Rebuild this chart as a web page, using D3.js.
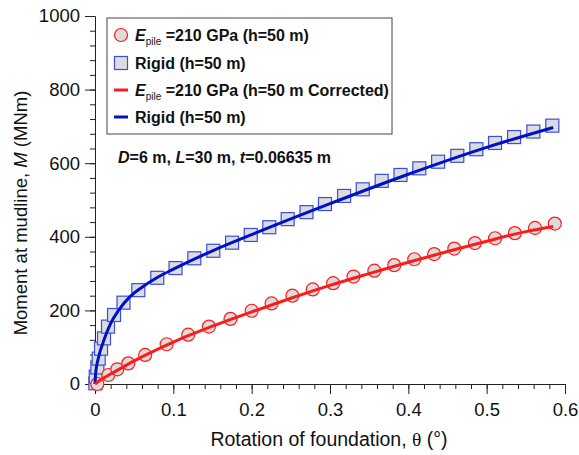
<!DOCTYPE html>
<html><head><meta charset="utf-8">
<script src="https://cdn.jsdelivr.net/npm/d3@7"></script>
<style>body{margin:0;background:#fff}svg{font-family:"Liberation Sans",Arial,sans-serif}text{white-space:pre}</style>
</head><body><svg id="c" width="579" height="455"></svg>
<script>
// Data
const redPtsTheta = [0.003,0.017,0.0285,0.0425,0.064,0.0915,0.119,0.1455,0.173,0.200,0.2255,0.252,0.278,0.304,0.330,0.3566,0.382,0.4076,0.433,0.4587,0.485,0.5107,0.536,0.5617,0.587];
const redPtsM     = [0,24.5,40,56,79,108,134,156,177,199,219,240,257,274,292,308,323,339,353,368,383,396,410,424,436];
const bluePtsTheta = [0.0005,0.001,0.003,0.0047,0.0077,0.0115,0.0166,0.0243,0.0364,0.0553,0.0795,0.1028,0.1268,0.151,0.175,0.1988,0.2225,0.246,0.270,0.2936,0.318,0.3418,0.366,0.390,0.414,0.438,0.4625,0.4868,0.5107,0.535,0.5596,0.5838];
const bluePtsM     = [2,20,45,69,96,124,156,187.5,221,255,288.6,315,341.6,362,384,405,426,448,467,489,511,529,552,568,586,604,620,638,655,671,686,702];
const redLineTheta = [0,0.005,0.01,0.02,0.05,0.1,0.15,0.2,0.25,0.3,0.35,0.4,0.45,0.5,0.55,0.585];
const redLineM     = [0,8,15,27,63,114,157,196,233,268,300,331,360,388,414,428];
const blueLineTheta = [0,0.0005,0.001,0.002,0.004,0.007,0.01,0.015,0.02,0.03,0.045,0.06,0.08,0.1,0.15,0.2,0.3,0.4,0.5,0.585];
const blueLineM     = [0,18,32,48,68,92,111,140,165,200,238,263,290,312,362,406,490,570,643,697];
const xTicks = [0,0.1,0.2,0.3,0.4,0.5,0.6];
const xTickLabels = ["0","0.1","0.2","0.3","0.4","0.5","0.6"];
const yTicks = [0,200,400,600,800,1000];
const yTickLabels = ["0","200","400","600","800","1000"];

const svg = d3.select("#c");
const x = d3.scaleLinear().domain([0,0.6]).range([95,565]);
const y = d3.scaleLinear().domain([0,1000]).range([384,16]);

// axes
const xAxis = d3.axisBottom(x).tickValues(xTicks).tickFormat((d,i)=>xTickLabels[i]).tickSize(10).tickPadding(9);
const gx = svg.append("g").attr("transform","translate(0,384)").call(xAxis);
gx.selectAll(".tick text").attr("font-size",18.5).attr("fill","#111");
gx.selectAll("path,line").attr("stroke","#222");
svg.append("g").attr("transform","translate(0,384)")
  .call(d3.axisBottom(x).tickValues(d3.range(0,31).map(i=>i*0.02)).tickFormat("").tickSize(5))
  .call(g=>g.select(".domain").remove()).selectAll("line").attr("stroke","#222");

const yAxis = d3.axisLeft(y).tickValues(yTicks).tickFormat((d,i)=>yTickLabels[i]).tickSize(10).tickPadding(5);
const gy = svg.append("g").attr("transform","translate(95,0)").call(yAxis);
gy.selectAll(".tick text").attr("font-size",18.5).attr("fill","#111");
gy.selectAll("path,line").attr("stroke","#222");
svg.append("g").attr("transform","translate(95,0)")
  .call(d3.axisLeft(y).tickValues(d3.range(0,26).map(i=>i*40)).tickFormat("").tickSize(5))
  .call(g=>g.select(".domain").remove()).selectAll("line").attr("stroke","#222");

// axis titles
const xt = svg.append("text").attr("x",329).attr("y",446).attr("text-anchor","middle").attr("font-size",19.5).attr("fill","#111");
xt.append("tspan").text("Rotation of foundation, ");
xt.append("tspan").attr("font-family","'Liberation Serif','DejaVu Serif',serif").text("θ");
xt.append("tspan").text(" (°)");
const yt = svg.append("text").attr("transform","translate(27,213) rotate(-90)").attr("text-anchor","middle").attr("font-size",18.5).attr("fill","#111");
yt.append("tspan").text("Moment at mudline, ");
yt.append("tspan").attr("font-style","italic").text("M");
yt.append("tspan").text(" (MNm)");

const red = "#ff1a1a", blue = "#0010c8";
const line = d3.line().x(d=>x(d[0])).y(d=>y(d[1])).curve(d3.curveMonotoneX);
// markers
const sq = 13;
svg.append("g").selectAll("rect").data(d3.zip(bluePtsTheta,bluePtsM)).join("rect")
  .attr("x",d=>x(d[0])-sq/2).attr("y",d=>y(d[1])-sq/2).attr("width",sq).attr("height",sq)
  .attr("fill","#dcdcdc").attr("stroke","#3a4ee0").attr("stroke-width",1.2);
svg.append("g").selectAll("circle").data(d3.zip(redPtsTheta,redPtsM)).join("circle")
  .attr("cx",d=>x(d[0])).attr("cy",d=>y(d[1])).attr("r",6.5)
  .attr("fill","#dcdcdc").attr("stroke",red).attr("stroke-width",1.2);
svg.append("path").datum(d3.zip(blueLineTheta,blueLineM)).attr("d",line).attr("fill","none").attr("stroke",blue).attr("stroke-width",3);
svg.append("path").datum(d3.zip(redLineTheta,redLineM)).attr("d",line).attr("fill","none").attr("stroke",red).attr("stroke-width",3);

// legend
const lg = svg.append("g");
lg.append("rect").attr("x",107).attr("y",18).attr("width",285).attr("height",116).attr("fill","#fff").attr("stroke","#444").attr("stroke-width",1);
const rows = [35,63,90,117];
lg.append("circle").attr("cx",121).attr("cy",rows[0]).attr("r",6.5).attr("fill","#dcdcdc").attr("stroke",red).attr("stroke-width",1.2);
lg.append("rect").attr("x",121-6.5).attr("y",rows[1]-6.5).attr("width",13).attr("height",13).attr("fill","#dcdcdc").attr("stroke","#3a4ee0").attr("stroke-width",1.2);
lg.append("line").attr("x1",114).attr("x2",128).attr("y1",rows[2]).attr("y2",rows[2]).attr("stroke",red).attr("stroke-width",3);
lg.append("line").attr("x1",114).attr("x2",128).attr("y1",rows[3]).attr("y2",rows[3]).attr("stroke",blue).attr("stroke-width",3);
const labels = [["E","pile"," =210 GPa (h=50 m)"],[null,null,"Rigid (h=50 m)"],["E","pile"," =210 GPa (h=50 m Corrected)"],[null,null,"Rigid (h=50 m)"]];
labels.forEach((l,i)=>{
  const t = lg.append("text").attr("x",135).attr("y",rows[i]+5.5).attr("font-size",16).attr("font-weight","bold").attr("fill","#111");
  if(l[0]){
    t.append("tspan").attr("font-style","italic").text(l[0]);
    t.append("tspan").attr("font-size",10).attr("font-weight","normal").attr("dy",4).text(l[1]);
    t.append("tspan").attr("dy",-4).text(l[2]);
  } else t.text(l[2]);
});

// annotation
const an = svg.append("text").attr("x",118).attr("y",163).attr("font-size",16).attr("font-weight","bold").attr("fill","#111");
[["D",true],["=6 m, ",false],["L",true],["=30 m, ",false],["t",true],["=0.06635 m",false]].forEach(p=>{
  an.append("tspan").attr("font-style",p[1]?"italic":"normal").text(p[0]);
});
</script></body></html>
